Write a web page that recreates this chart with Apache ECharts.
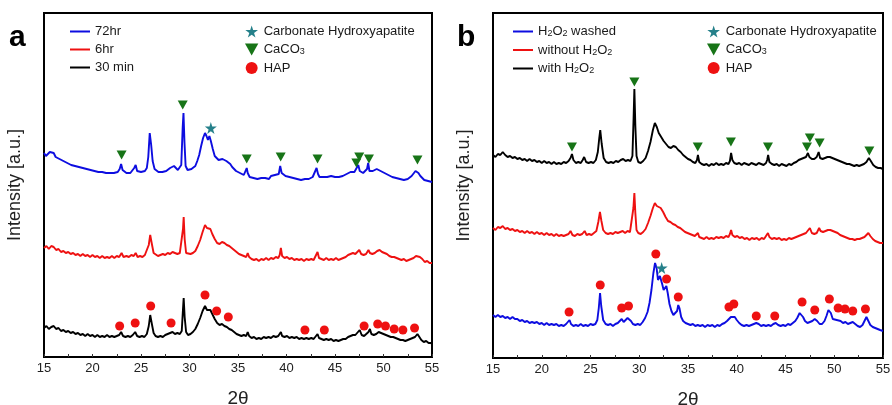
<!DOCTYPE html>
<html>
<head>
<meta charset="utf-8">
<script src="https://cdn.jsdelivr.net/npm/echarts@6/dist/echarts.min.js"></script>
<style>
  html, body { margin: 0; padding: 0; background: #fff; }
  #chart { width: 892px; height: 405px; }
</style>
</head>
<body>
<div id="chart"></div>
<script>
// X-ray diffraction patterns, 2θ from 15° to 55°, intensity in arbitrary units.
// Panel (a): samples after different reaction times.
const xTicks = [15, 20, 25, 30, 35, 40, 45, 50, 55];

const pattern72hr = [[15.0,204],[15.2,201],[15.4,203],[15.6,205],[15.8,207],[16.0,204],[16.2,200],[16.4,199],[16.6,198],[16.8,197],[17.0,196],[17.2,197],[17.4,194],[17.6,195],[17.8,192],[18.0,193],[18.2,191],[18.4,192],[18.6,190],[18.8,191],[19.0,189],[19.2,190],[19.4,188],[19.6,189],[19.8,187],[20.0,188],[20.2,186],[20.4,187],[20.6,185],[20.8,187],[21.0,185],[21.2,186],[21.4,184],[21.6,186],[21.8,184],[22.0,185],[22.2,184],[22.4,186],[22.6,185],[22.8,188],[22.95,193],[23.1,187],[23.3,185],[23.5,184],[23.7,186],[23.9,184],[24.1,185],[24.3,189],[24.45,192],[24.6,186],[24.8,184],[25.0,185],[25.2,184],[25.4,186],[25.6,189],[25.75,200],[25.9,224],[26.05,212],[26.2,196],[26.4,188],[26.6,186],[26.8,185],[27.0,187],[27.2,185],[27.4,187],[27.6,186],[27.8,188],[28.0,189],[28.2,190],[28.4,191],[28.6,189],[28.8,187],[29.0,188],[29.15,192],[29.3,230],[29.38,244],[29.48,215],[29.6,191],[29.8,187],[30.0,186],[30.2,188],[30.4,189],[30.6,191],[30.8,196],[31.0,202],[31.2,211],[31.4,219],[31.6,224],[31.75,221],[31.9,217],[32.05,221],[32.2,216],[32.4,208],[32.6,201],[32.8,199],[33.0,197],[33.2,199],[33.4,198],[33.6,199],[33.8,196],[34.0,194],[34.2,193],[34.4,190],[34.6,189],[34.8,186],[35.0,185],[35.2,184],[35.4,182],[35.6,182],[35.8,184],[35.9,189],[36.0,184],[36.2,180],[36.4,181],[36.6,179],[36.8,180],[37.0,178],[37.2,180],[37.4,179],[37.6,181],[37.8,179],[38.0,180],[38.2,178],[38.4,181],[38.6,180],[38.8,182],[39.0,181],[39.2,183],[39.35,191],[39.5,184],[39.7,182],[39.9,181],[40.1,182],[40.3,180],[40.5,181],[40.7,179],[40.9,180],[41.1,178],[41.3,179],[41.5,177],[41.7,179],[41.9,178],[42.1,180],[42.3,178],[42.5,179],[42.7,180],[42.9,182],[43.1,189],[43.25,183],[43.4,180],[43.6,179],[43.8,180],[44.0,178],[44.2,180],[44.4,179],[44.6,181],[44.8,179],[45.0,180],[45.2,178],[45.4,180],[45.6,179],[45.8,181],[46.0,182],[46.2,183],[46.4,184],[46.6,185],[46.8,186],[47.0,185],[47.2,187],[47.4,192],[47.55,186],[47.7,185],[47.9,184],[48.1,185],[48.3,188],[48.42,194],[48.55,186],[48.7,185],[48.9,186],[49.1,187],[49.3,188],[49.5,187],[49.7,186],[49.9,185],[50.1,184],[50.3,183],[50.5,182],[50.7,181],[50.9,180],[51.1,181],[51.3,179],[51.5,180],[51.7,178],[51.9,179],[52.1,177],[52.3,179],[52.5,178],[52.7,180],[52.9,181],[53.1,183],[53.3,186],[53.45,187],[53.6,184],[53.8,181],[54.0,179],[54.2,177],[54.4,178],[54.6,176],[54.8,177],[55.0,175]];

const pattern6hr = [[15,109],[15.25,111],[15.5,108],[15.75,111],[16,110],[16.25,107],[16.5,108],[16.75,105],[17,106],[17.25,104],[17.5,105],[17.75,103],[18,104],[18.25,102],[18.5,103],[18.75,101],[19,103],[19.25,101],[19.5,102],[19.75,100],[20,102],[20.25,100],[20.5,101],[20.75,99],[21,101],[21.25,99],[21.5,100],[21.75,99],[22,101],[22.25,99],[22.5,101],[22.75,100],[23.0,104],[23.2,100],[23.5,101],[23.75,100],[24,102],[24.25,101],[24.45,104],[24.65,100],[24.9,101],[25.15,100],[25.4,102],[25.6,104],[25.8,112],[25.95,122],[26.1,114],[26.3,104],[26.5,102],[26.75,101],[27,102],[27.25,103],[27.5,102],[27.75,104],[28,103],[28.25,105],[28.5,104],[28.75,103],[29,104],[29.2,106],[29.33,128],[29.4,140],[29.5,118],[29.65,104],[29.85,102],[30.1,103],[30.35,104],[30.6,106],[30.85,111],[31.1,117],[31.35,125],[31.6,132],[31.8,129],[32.0,130],[32.15,128],[32.35,123],[32.6,118],[32.85,114],[33.1,113],[33.35,115],[33.6,114],[33.85,112],[34.1,111],[34.35,109],[34.6,107],[34.85,105],[35.1,103],[35.35,102],[35.6,101],[35.85,100],[36.0,104],[36.15,100],[36.4,98],[36.65,97],[36.9,98],[37.15,96],[37.4,98],[37.65,97],[37.9,99],[38.15,97],[38.4,99],[38.65,98],[38.9,100],[39.15,99],[39.3,102],[39.42,109],[39.55,101],[39.8,99],[40.05,100],[40.3,98],[40.55,99],[40.8,97],[41.05,98],[41.3,97],[41.55,98],[41.8,96],[42.05,98],[42.3,97],[42.55,98],[42.8,97],[43.0,99],[43.2,105],[43.35,99],[43.6,98],[43.85,97],[44.1,99],[44.35,97],[44.6,98],[44.85,97],[45.1,99],[45.35,97],[45.6,98],[45.85,99],[46.1,100],[46.35,102],[46.6,103],[46.85,104],[47.1,103],[47.3,104],[47.5,107],[47.7,103],[47.95,102],[48.2,103],[48.45,107],[48.6,104],[48.85,103],[49.1,104],[49.35,106],[49.6,107],[49.85,105],[50.1,104],[50.35,103],[50.6,101],[50.85,100],[51.1,100],[51.35,99],[51.6,98],[51.85,97],[52.1,98],[52.35,96],[52.6,97],[52.85,98],[53.1,99],[53.35,101],[53.55,103],[53.75,100],[54.0,98],[54.25,95],[54.5,96],[54.75,94],[55,94]];

const pattern30min = [[15,29],[15.25,31],[15.5,28],[15.75,30],[16,31],[16.25,28],[16.5,29],[16.75,26],[17,27],[17.25,25],[17.5,26],[17.75,24],[18,25],[18.25,23],[18.5,24],[18.75,22],[19,23],[19.25,21],[19.5,23],[19.75,21],[20,22],[20.25,20],[20.5,22],[20.75,20],[21,21],[21.25,20],[21.5,22],[21.75,20],[22,21],[22.25,20],[22.5,21],[22.75,22],[22.95,25],[23.15,21],[23.4,20],[23.65,21],[23.9,20],[24.15,22],[24.4,25],[24.6,21],[24.85,20],[25.1,21],[25.35,20],[25.6,23],[25.8,31],[25.95,42],[26.1,34],[26.3,24],[26.5,21],[26.75,20],[27,21],[27.25,20],[27.5,22],[27.75,23],[28,24],[28.25,25],[28.5,23],[28.75,24],[29,23],[29.2,26],[29.33,48],[29.4,59],[29.5,40],[29.65,25],[29.85,22],[30.1,23],[30.35,25],[30.6,28],[30.85,33],[31.1,39],[31.35,46],[31.6,51],[31.8,47],[32.0,45],[32.15,47],[32.35,43],[32.6,38],[32.85,34],[33.1,32],[33.35,33],[33.6,31],[33.85,30],[34.1,28],[34.35,27],[34.6,25],[34.85,23],[35.1,22],[35.35,21],[35.6,22],[35.85,21],[36.0,25],[36.15,21],[36.4,19],[36.65,20],[36.9,18],[37.15,19],[37.4,18],[37.65,20],[37.9,19],[38.15,20],[38.4,19],[38.65,21],[38.9,20],[39.15,21],[39.3,22],[39.42,25],[39.55,21],[39.8,20],[40.05,21],[40.3,19],[40.55,20],[40.8,19],[41.05,20],[41.3,18],[41.55,19],[41.8,18],[42.05,19],[42.3,18],[42.55,19],[42.8,18],[43.0,20],[43.2,23],[43.35,19],[43.6,18],[43.85,17],[44.1,18],[44.35,17],[44.6,18],[44.85,16],[45.1,17],[45.35,16],[45.6,17],[45.85,18],[46.1,18],[46.35,20],[46.6,21],[46.85,22],[47.1,22],[47.3,23],[47.55,27],[47.75,22],[48.0,21],[48.2,22],[48.45,25],[48.6,28],[48.75,23],[49.0,22],[49.25,23],[49.5,25],[49.75,24],[50.0,23],[50.25,22],[50.5,21],[50.75,20],[51.0,20],[51.25,19],[51.5,18],[51.75,17],[52.0,17],[52.25,16],[52.5,17],[52.75,18],[53.0,19],[53.25,20],[53.5,23],[53.7,21],[53.9,17],[54.15,15],[54.4,16],[54.65,14],[54.9,14],[55,13]];

// Reflection positions marked on panel (a)
const carbonateHapA = [[32.2,229]];
const calciteA = [[23.0,202],[29.3,252],[35.9,198],[39.4,200],[43.2,198],[47.2,194],[47.5,200],[48.5,198],[53.5,197]];
const hapA = [[22.8,31],[24.4,34],[26.0,51],[28.1,34],[31.6,62],[32.8,46],[34.0,40],[41.9,27],[43.9,27],[48.0,31],[49.4,33],[50.2,31],[51.1,28],[52.0,27],[53.2,29]];

// Panel (b): effect of H2O2 treatment.
const patternWith = [[15,203],[15.25,201],[15.5,204],[15.75,203],[16,206],[16.25,203],[16.5,201],[16.75,202],[17,200],[17.25,201],[17.5,199],[17.75,200],[18,198],[18.25,199],[18.5,197],[18.75,199],[19,197],[19.25,198],[19.5,196],[19.75,197],[20,195],[20.25,197],[20.5,195],[20.75,196],[21,194],[21.25,196],[21.5,194],[21.75,195],[22,194],[22.25,196],[22.5,195],[22.75,197],[22.95,200],[23.1,204],[23.25,198],[23.5,195],[23.75,196],[24,195],[24.2,198],[24.35,201],[24.55,196],[24.8,195],[25.05,196],[25.3,195],[25.55,198],[25.75,206],[25.9,220],[26.0,228],[26.15,214],[26.35,200],[26.6,196],[26.85,195],[27.1,196],[27.35,195],[27.6,197],[27.85,196],[28.1,198],[28.35,199],[28.6,197],[28.85,198],[29.1,197],[29.3,202],[29.42,240],[29.5,269],[29.6,232],[29.72,202],[29.9,196],[30.15,195],[30.4,197],[30.65,200],[30.9,207],[31.15,216],[31.4,228],[31.6,235],[31.8,231],[32.0,225],[32.25,221],[32.5,217],[32.75,214],[33.0,211],[33.25,210],[33.5,212],[33.75,211],[34.0,208],[34.25,206],[34.5,203],[34.75,201],[35.0,199],[35.25,198],[35.5,196],[35.75,195],[35.92,198],[36.02,203],[36.15,196],[36.4,194],[36.65,193],[36.9,194],[37.15,192],[37.4,194],[37.65,193],[37.9,195],[38.15,193],[38.4,194],[38.65,193],[38.9,195],[39.15,194],[39.3,197],[39.42,205],[39.55,198],[39.75,195],[40.0,194],[40.25,195],[40.5,193],[40.75,195],[41.0,194],[41.25,193],[41.5,195],[41.75,194],[42.0,193],[42.25,195],[42.5,194],[42.75,193],[43.0,195],[43.12,198],[43.22,203],[43.35,196],[43.6,194],[43.85,193],[44.1,194],[44.35,192],[44.6,194],[44.85,193],[45.1,192],[45.35,194],[45.6,193],[45.85,195],[46.1,196],[46.35,198],[46.6,199],[46.85,200],[47.1,201],[47.3,205],[47.45,201],[47.7,199],[47.95,199],[48.2,201],[48.4,206],[48.55,200],[48.8,199],[49.05,200],[49.3,201],[49.55,201],[49.8,200],[50.05,199],[50.3,198],[50.55,197],[50.8,196],[51.05,195],[51.3,194],[51.55,194],[51.8,193],[52.05,192],[52.3,193],[52.55,192],[52.8,193],[53.05,194],[53.3,196],[53.55,200],[53.75,197],[54.0,193],[54.25,191],[54.5,190],[54.75,190],[55,189]];

const patternWithout = [[15,130],[15.25,128],[15.5,131],[15.75,130],[16,132],[16.25,129],[16.5,130],[16.75,128],[17,129],[17.25,127],[17.5,128],[17.75,126],[18,127],[18.25,125],[18.5,127],[18.75,125],[19,126],[19.25,124],[19.5,126],[19.75,124],[20,125],[20.25,123],[20.5,125],[20.75,123],[21,124],[21.25,122],[21.5,124],[21.75,122],[22,123],[22.25,122],[22.5,123],[22.75,124],[22.95,127],[23.15,123],[23.4,122],[23.65,124],[23.9,123],[24.15,124],[24.4,127],[24.6,123],[24.85,124],[25.1,123],[25.35,125],[25.6,127],[25.8,136],[25.97,146],[26.12,137],[26.3,128],[26.55,125],[26.8,124],[27.05,125],[27.3,124],[27.55,126],[27.8,125],[28.05,126],[28.3,127],[28.55,125],[28.8,127],[29.05,126],[29.25,128],[29.4,150],[29.5,165],[29.6,145],[29.72,128],[29.9,125],[30.15,124],[30.4,126],[30.65,129],[30.9,135],[31.15,142],[31.4,150],[31.6,155],[31.8,152],[32.0,153],[32.2,150],[32.45,146],[32.7,141],[32.95,137],[33.2,136],[33.45,134],[33.7,133],[33.95,131],[34.2,130],[34.45,128],[34.7,126],[34.95,125],[35.2,124],[35.45,123],[35.7,122],[35.9,123],[36.02,125],[36.15,121],[36.4,120],[36.65,119],[36.9,121],[37.15,119],[37.4,120],[37.65,119],[37.9,121],[38.15,120],[38.4,121],[38.65,120],[38.9,122],[39.15,121],[39.3,124],[39.42,128],[39.55,123],[39.8,121],[40.05,122],[40.3,120],[40.55,121],[40.8,119],[41.05,120],[41.3,118],[41.55,120],[41.8,119],[42.05,120],[42.3,118],[42.55,120],[42.8,119],[43.0,121],[43.2,125],[43.35,121],[43.6,119],[43.85,120],[44.1,119],[44.35,120],[44.6,118],[44.85,119],[45.1,118],[45.35,120],[45.6,119],[45.85,120],[46.1,121],[46.35,122],[46.6,123],[46.85,124],[47.1,125],[47.3,127],[47.5,130],[47.7,125],[47.95,124],[48.2,125],[48.45,130],[48.6,127],[48.85,126],[49.1,127],[49.35,128],[49.6,128],[49.85,127],[50.1,126],[50.35,125],[50.6,123],[50.85,122],[51.1,121],[51.35,120],[51.6,119],[51.85,119],[52.1,118],[52.35,119],[52.6,119],[52.85,120],[53.1,121],[53.3,123],[53.5,125],[53.7,122],[53.95,119],[54.2,117],[54.45,116],[54.7,115],[55,115]];

const patternWashed = [[15,43],[15.25,41],[15.5,43],[15.75,41],[16,42],[16.25,40],[16.5,41],[16.75,39],[17,41],[17.25,39],[17.5,39],[17.75,37],[18,38],[18.25,36],[18.5,37],[18.75,35],[19,36],[19.25,35],[19.5,36],[19.75,34],[20,35],[20.25,33],[20.5,35],[20.75,33],[21,34],[21.25,33],[21.5,34],[21.75,32],[22,33],[22.25,32],[22.5,34],[22.7,35],[22.85,38],[23.0,34],[23.25,32],[23.5,33],[23.75,32],[24.0,34],[24.25,32],[24.5,33],[24.75,32],[25.0,34],[25.25,33],[25.5,34],[25.7,38],[25.85,50],[25.98,65],[26.1,52],[26.3,38],[26.55,34],[26.8,33],[27.05,34],[27.3,32],[27.55,34],[27.8,35],[28.0,37],[28.2,39],[28.4,36],[28.6,37],[28.8,40],[28.95,41],[29.15,37],[29.35,34],[29.6,33],[29.85,34],[30.1,33],[30.35,36],[30.6,40],[30.85,46],[31.05,55],[31.25,68],[31.45,85],[31.62,95],[31.78,90],[31.92,78],[32.02,76],[32.12,82],[32.22,83],[32.35,74],[32.5,68],[32.65,70],[32.78,72],[32.92,65],[33.1,54],[33.3,47],[33.5,43],[33.7,42],[33.88,47],[34.0,53],[34.12,50],[34.3,41],[34.5,37],[34.75,35],[35.0,34],[35.25,33],[35.5,34],[35.75,32],[36.0,33],[36.25,32],[36.5,33],[36.75,31],[37.0,33],[37.25,32],[37.5,33],[37.75,31],[38.0,33],[38.25,32],[38.5,34],[38.75,35],[39.0,37],[39.2,39],[39.4,41],[39.6,43],[39.8,41],[40.0,38],[40.25,35],[40.5,33],[40.75,32],[41.0,33],[41.25,32],[41.5,33],[41.75,34],[42.0,35],[42.25,34],[42.5,32],[42.75,33],[43.0,32],[43.25,33],[43.5,32],[43.75,34],[44.0,35],[44.25,33],[44.5,32],[44.75,33],[45.0,32],[45.25,34],[45.5,33],[45.75,35],[46.0,37],[46.2,40],[46.45,45],[46.62,47],[46.8,41],[47.0,37],[47.25,35],[47.5,36],[47.75,37],[48.0,39],[48.25,37],[48.5,34],[48.75,34],[49.0,37],[49.2,42],[49.4,48],[49.5,50],[49.65,45],[49.85,39],[50.05,37],[50.25,38],[50.45,40],[50.65,37],[50.9,35],[51.15,36],[51.4,34],[51.65,35],[51.9,36],[52.15,34],[52.4,32],[52.65,31],[52.9,33],[53.1,37],[53.3,41],[53.5,37],[53.7,33],[53.95,31],[54.2,30],[54.45,29],[54.7,28],[55,27]];

// Reflection positions marked on panel (b)
const carbonateHapB = [[32.3,90]];
const calciteB = [[23.1,211],[29.5,276],[36.0,211],[39.4,216],[43.2,211],[47.2,211],[47.5,220],[48.5,215],[53.6,207]];
const hapB = [[22.8,46],[26.0,73],[28.2,50],[28.9,52],[31.7,104],[32.8,79],[34.0,61],[39.2,51],[39.7,54],[42.0,42],[43.9,42],[46.7,56],[48.0,48],[49.5,59],[50.4,50],[51.1,49],[51.9,47],[53.2,49]];

const FONT = '"Liberation Sans", Arial, Helvetica, sans-serif';
const BLUE = '#0d0de0';
const RED = '#ee1111';
const BLACK = '#000000';
const GREEN = '#177417';
const TEAL = '#25808a';
const HAP_RED = '#ee1111';

const STAR = 'path://M50,0 L61,35 L98,35 L68,57 L79,91 L50,70 L21,91 L32,57 L2,35 L39,35 Z';
const TRI_DOWN = 'path://M0,0 L10,0 L5,9 Z';

// chemical formulas: digits following a capital letter are subscripts
const formula = name => name.replace(/([A-Z])(\d)/g, '$1{s|$2}');
const legendText = {
  color: '#1a1a1a', fontFamily: FONT, fontSize: 13,
  rich: {
    s: { fontFamily: FONT, fontSize: 9, color: '#1a1a1a', verticalAlign: 'bottom', padding: [5, 0, 0, 0] }
  }
};

function xAxisFor(gridIndex) {
  return {
    gridIndex, type: 'value', min: 15, max: 55, interval: 5,
    name: '2θ', nameLocation: 'middle', nameGap: 32,
    nameTextStyle: { fontFamily: FONT, fontSize: 19, color: '#222' },
    axisLine: { show: true, onZero: false, lineStyle: { color: '#000', width: 2 } },
    axisTick: { show: true, inside: true, length: 3, lineStyle: { color: '#333', width: 1 } },
    minorTick: { show: true, splitNumber: 2, length: 3, lineStyle: { color: '#333', width: 1 } },
    axisLabel: { fontFamily: FONT, fontSize: 13, color: '#222', margin: 5,
      customValues: xTicks },
    splitLine: { show: false }
  };
}
function yAxisFor(gridIndex, max) {
  return {
    gridIndex, type: 'value', min: 0, max,
    name: 'Intensity [a.u.]', nameLocation: 'middle', nameGap: 20,
    nameTextStyle: { fontFamily: FONT, fontSize: 18, color: '#222' },
    axisLine: { show: true, lineStyle: { color: '#000', width: 2 } },
    axisTick: { show: false }, axisLabel: { show: false }, splitLine: { show: false }
  };
}
function lineSeries(name, data, color, idx) {
  return { name, type: 'line', data, xAxisIndex: idx, yAxisIndex: idx,
    showSymbol: false, symbol: 'none', color,
    lineStyle: { color, width: 1.9 }, z: 2, animation: false };
}
function markSeries(name, data, symbol, size, color, idx) {
  return { name, type: 'scatter', data, xAxisIndex: idx, yAxisIndex: idx,
    symbol, symbolSize: size, itemStyle: { color, opacity: 1 }, z: 5, animation: false };
}
function legendBlock(left, data, iconW, iconH, icon) {
  const block = { orient: 'vertical', left, top: 25, padding: 0, itemGap: 5,
    itemWidth: iconW, itemHeight: iconH, data,
    textStyle: legendText, formatter: formula, selectedMode: false };
  if (icon) block.icon = icon;
  return block;
}
const markLegendItems = [
  { name: 'Carbonate Hydroxyapatite', icon: STAR },
  { name: 'CaCO3', icon: TRI_DOWN },
  { name: 'HAP', icon: 'circle' }
];

const chart = echarts.init(document.getElementById('chart'), null, { renderer: 'canvas' });
chart.setOption({
  backgroundColor: '#fff',
  animation: false,
  grid: [
    { left: 44, top: 13, width: 388, height: 344, show: true, borderColor: '#000', borderWidth: 2,
      containLabel: false, outerBoundsMode: 'none' },
    { left: 493, top: 13, width: 390, height: 345, show: true, borderColor: '#000', borderWidth: 2,
      containLabel: false, outerBoundsMode: 'none' }
  ],
  xAxis: [xAxisFor(0), xAxisFor(1)],
  yAxis: [yAxisFor(0, 344), yAxisFor(1, 345)],
  legend: [
    legendBlock(70, ['72hr', '6hr', '30 min'], 20, 2, 'rect'),
    legendBlock(245, markLegendItems, 14, 12),
    legendBlock(513, ['H2O2 washed', 'without H2O2', 'with H2O2'], 20, 2, 'rect'),
    legendBlock(707, markLegendItems, 14, 12)
  ],
  graphic: [
    { type: 'text', left: 9, top: 23, style: { text: 'a', font: 'bold 30px ' + FONT, fill: '#000' } },
    { type: 'text', left: 457, top: 23, style: { text: 'b', font: 'bold 30px ' + FONT, fill: '#000' } }
  ],
  series: [
    lineSeries('72hr', pattern72hr, BLUE, 0),
    lineSeries('6hr', pattern6hr, RED, 0),
    lineSeries('30 min', pattern30min, BLACK, 0),
    markSeries('Carbonate Hydroxyapatite', carbonateHapA, STAR, 12, TEAL, 0),
    markSeries('CaCO3', calciteA, TRI_DOWN, [10, 9], GREEN, 0),
    markSeries('HAP', hapA, 'circle', 9, HAP_RED, 0),

    lineSeries('H2O2 washed', patternWashed, BLUE, 1),
    lineSeries('without H2O2', patternWithout, RED, 1),
    lineSeries('with H2O2', patternWith, BLACK, 1),
    markSeries('Carbonate Hydroxyapatite', carbonateHapB, STAR, 12, TEAL, 1),
    markSeries('CaCO3', calciteB, TRI_DOWN, [10, 9], GREEN, 1),
    markSeries('HAP', hapB, 'circle', 9, HAP_RED, 1)
  ]
});
</script>
</body>
</html>
